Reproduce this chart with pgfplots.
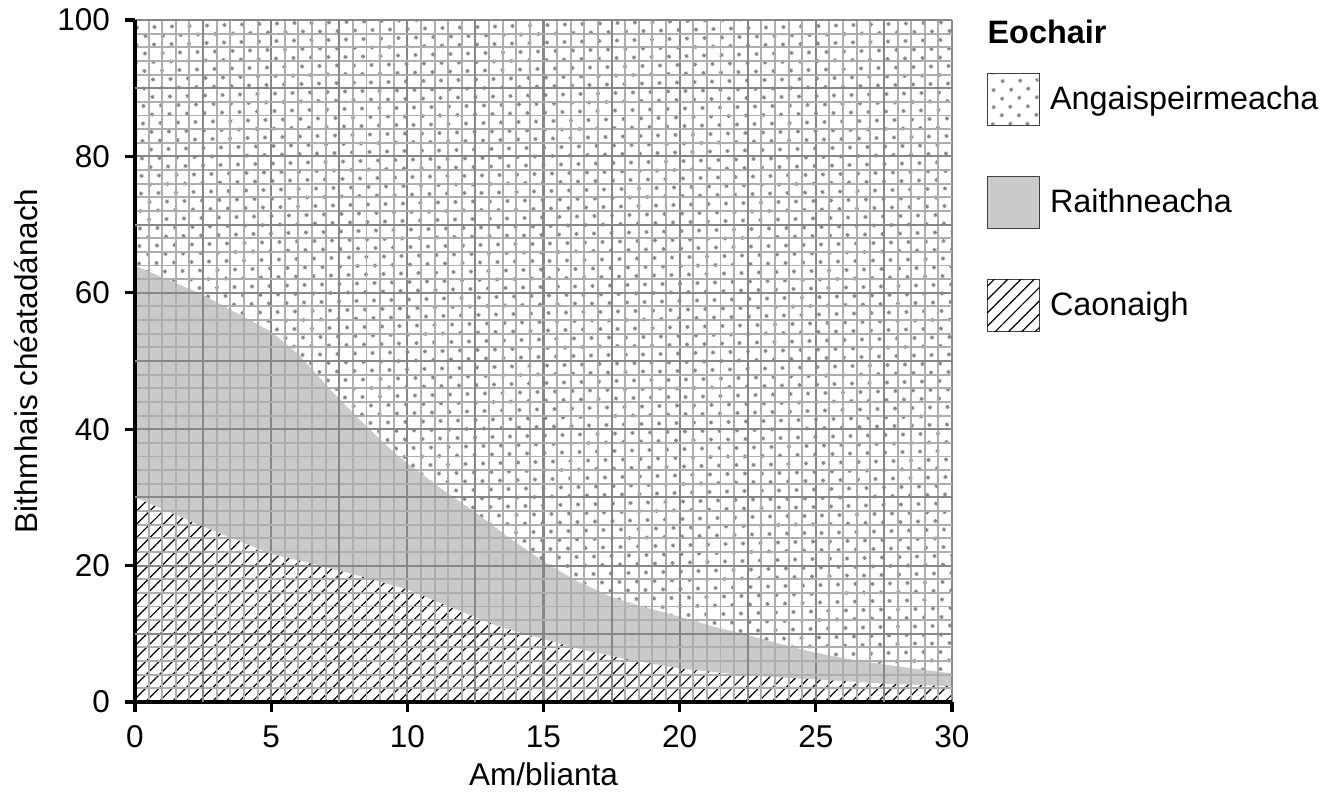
\documentclass[border=0pt]{standalone}
\usepackage{fontspec}
\setmainfont{Liberation Sans}
\usepackage{pgfplots}
\pgfplotsset{compat=1.18}
\usetikzlibrary{patterns.meta}

\definecolor{fern}{HTML}{C9CACC}
\definecolor{dotgray}{HTML}{888888}
\definecolor{gridlight}{HTML}{AEAEAE}
\definecolor{griddark}{HTML}{878787}

\begin{document}
\begin{tikzpicture}
\useasboundingbox (-45pt,-30.67pt) rectangle (399.33pt,234pt);
\begin{axis}[
    at={(0pt,0pt)}, anchor=south west,
    scale only axis,
    width=272.33pt, height=227.33pt,
    xmin=0, xmax=30, ymin=0, ymax=100,
    axis x line*=bottom, axis y line*=left,
    axis line style={-, line width=1.1pt, black},
    axis on top,
    xtick={0,5,...,30}, ytick={0,20,...,100},
    minor x tick num=9, minor y tick num=9,
    tick align=outside,
    major tick length=3.33pt, minor tick length=0pt,
    tick style={black, line width=1.1pt},
    grid=both,
    minor grid style={gridlight, line width=0.65pt},
    major grid style={griddark, line width=0.7pt},
    extra x ticks={2.5,7.5,...,27.5},
    extra y ticks={10,30,...,90},
    extra tick style={tick style={draw=none}, grid=major},
    extra x tick labels={}, extra y tick labels={},
    /pgf/number format/assume math mode=true,
    tick label style={font=\fontsize{10.5}{12}\selectfont},
    yticklabel style={xshift=-1.5pt},
    xticklabel style={yshift=-1pt},
    legend style={draw=none, fill=none, at={(rel axis cs:1.0428,0.9223)}, anchor=north west,
        inner sep=0pt, outer sep=0pt, row sep=16.67pt,
        nodes={inner sep=0pt, anchor=west, font=\fontsize{10.8}{13}\selectfont},
        /tikz/every odd column/.append style={column sep=3.33pt}},
    legend cell align=left,
    legend image code/.code={\draw[#1, draw=black!75, line width=0.35pt] (0pt,-8.67pt) rectangle (17.33pt,8.67pt);},
]
% Angaispeirmeacha (fills the rest up to 100 %)
\addplot[draw=none, pattern={Dots[distance=4pt, angle=45, radius=0.7pt]}, pattern color=dotgray]
    coordinates {(0,100) (30,100)} \closedcycle;
\addlegendentry{Angaispeirmeacha}
% Raithneacha (top of the grey band)
\addplot[draw=none, fill=fern] coordinates {
    (0,64) (2.5,59.7) (5,54.3) (6,51) (7.2,45.7) (8.3,41.2) (9.4,37) (10,35)
    (11.2,31.4) (12.4,28.1) (13.7,24.2) (15,20.6) (16.2,17.8) (17.5,15.4)
    (18.8,13.8) (20,12.5) (21.2,11.1) (22.5,9.8) (23.8,8.4) (25,7.2)
    (26.2,6.3) (27.5,5.5) (28.8,4.8) (30,4.2)
} \closedcycle;
\addlegendentry{Raithneacha}
% Caonaigh (hatched)
\addplot[draw=none, fill=white, postaction={pattern={Lines[angle=45, distance=3.14pt, line width=0.4pt]}, pattern color=black}] coordinates {
    (0,30) (2.5,25.7) (5,21.7) (6.7,20.1) (8.3,18.4) (10,16.5) (11.7,13.7)
    (13.4,11) (15,9.2) (16.5,7.6) (18,6.3) (20,4.9) (22.5,3.9) (25,3.3)
    (27.5,2.7) (30,2.3)
} \closedcycle;
\addlegendentry{Caonaigh}
\end{axis}
\node[anchor=west, font=\fontsize{10.8}{13}\selectfont\bfseries, inner sep=0pt] at (284pt,223.33pt) {Eochair};
\node[anchor=base, font=\fontsize{10.5}{12}\selectfont, inner sep=0pt] at (136.17pt,-27.67pt) {Am/blianta};
\node[rotate=90, anchor=center, font=\fontsize{10.5}{12}\selectfont, inner sep=0pt] at (-36.33pt,113.67pt) {Bithmhais chéatadánach};
\end{tikzpicture}
\end{document}
